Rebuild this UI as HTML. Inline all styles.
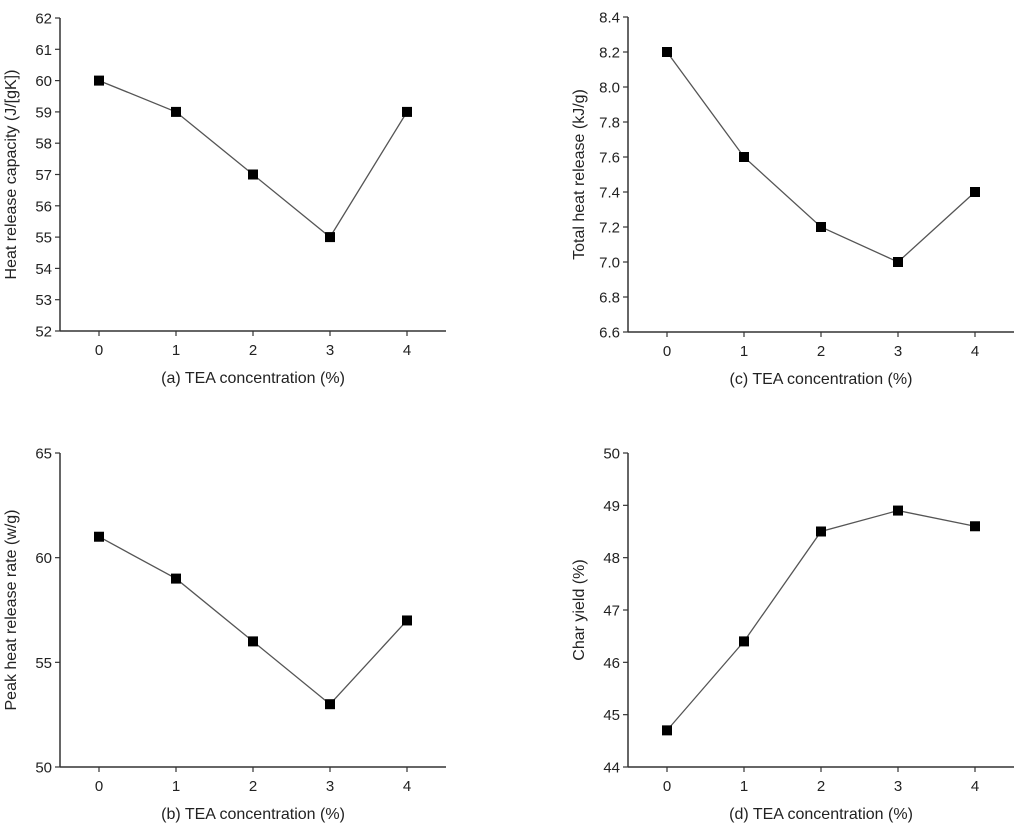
<!DOCTYPE html>
<html><head><meta charset="utf-8"><style>
body{margin:0;background:#fff;}
svg{display:block;font-family:"Liberation Sans",Arial,sans-serif;}
</style></head><body>
<svg id="c" width="1024" height="832" viewBox="0 0 1024 832"></svg>
<script>
const categories=[0,1,2,3,4];
const seriesA=[60,59,57,55,59];
const seriesB=[61,59,56,53,57];
const seriesC=[8.2,7.6,7.2,7.0,7.4];
const seriesD=[44.7,46.4,48.5,48.9,48.6];
const ticksA=[52,53,54,55,56,57,58,59,60,61,62];
const ticksB=[50,55,60,65];
const ticksC=[6.6,6.8,7.0,7.2,7.4,7.6,7.8,8.0,8.2,8.4];
const ticksD=[44,45,46,47,48,49,50];
const NS="http://www.w3.org/2000/svg";
const svg=document.getElementById('c');
function mk(tag,attrs,parent){const e=document.createElementNS(NS,tag);for(const k in attrs)e.setAttribute(k,attrs[k]);(parent||svg).appendChild(e);return e;}
function panel(id,ax,top,bottom,ticks,dec,vals,xlabel,ylabel){
  const g=mk('g',{});
  
  
  const x0=ax+39, dx=77, xEnd=ax+386;
  const ymin=ticks[0], ymax=ticks[ticks.length-1];
  const X=i=>x0+i*dx;
  const Y=v=>bottom-(v-ymin)/(ymax-ymin)*(bottom-top);
  const yaxis=mk('line',{x1:ax,y1:top,x2:ax,y2:bottom,stroke:'#333','stroke-width':1.5},g);
  
  
  const xaxis=mk('line',{x1:ax,y1:bottom,x2:xEnd,y2:bottom,stroke:'#333','stroke-width':1.5},g);
  
  
  ticks.forEach(t=>{
    mk('line',{x1:ax-5,y1:Y(t),x2:ax,y2:Y(t),stroke:'#333','stroke-width':1.2},g);
    const tx=mk('text',{x:ax-8,y:Y(t)+5.5,'text-anchor':'end','font-size':15,fill:'#222'},g);
    tx.textContent=t.toFixed(dec);
    
    
  });
  categories.forEach((c,i)=>{
    mk('line',{x1:X(i),y1:bottom,x2:X(i),y2:bottom+5,stroke:'#333','stroke-width':1.2},g);
    const tx=mk('text',{x:X(i),y:bottom+24,'text-anchor':'middle','font-size':15,fill:'#222'},g);
    tx.textContent=c;
    
    
  });
  const xl=mk('text',{x:(ax+xEnd)/2,y:bottom+52,'text-anchor':'middle','font-size':16,fill:'#222'},g);
  xl.textContent=xlabel;
  
  
  const cy=(top+bottom)/2;
  const yl=mk('text',{x:ax-44,y:cy,'text-anchor':'middle','font-size':16,fill:'#222',transform:`rotate(-90 ${ax-44} ${cy})`},g);
  yl.textContent=ylabel;
  
  
  const pl=mk('polyline',{points:vals.map((v,i)=>X(i)+','+Y(v)).join(' '),fill:'none',stroke:'#555','stroke-width':1.3},g);
  
  
  vals.forEach((v,i)=>{
    const r=mk('rect',{x:X(i)-5,y:Y(v)-5,width:10,height:10,fill:'#000'},g);
    
    
  });
}
panel('a',60,18,331,ticksA,0,seriesA,'(a) TEA concentration (%)','Heat release capacity (J/[gK])');
panel('c',628,17,332,ticksC,1,seriesC,'(c) TEA concentration (%)','Total heat release (kJ/g)');
panel('b',60,453,767,ticksB,0,seriesB,'(b) TEA concentration (%)','Peak heat release rate (w/g)');
panel('d',628,453,767,ticksD,0,seriesD,'(d) TEA concentration (%)','Char yield (%)');
</script>
</body></html>
